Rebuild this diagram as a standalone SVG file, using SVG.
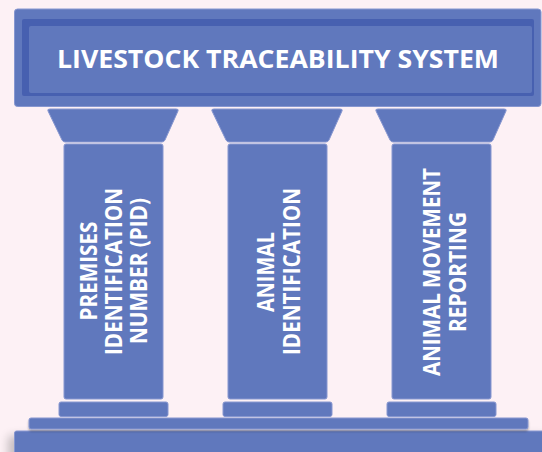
<svg xmlns="http://www.w3.org/2000/svg" width="542" height="452" viewBox="0 0 542 452">
<defs>
<filter id="sh" x="-10%" y="-50%" width="120%" height="200%">
<feGaussianBlur in="SourceAlpha" stdDeviation="5"/>
<feOffset dx="-6" dy="5" result="b"/>
<feComponentTransfer><feFuncA type="linear" slope="0.22"/></feComponentTransfer>
<feMerge><feMergeNode/><feMergeNode in="SourceGraphic"/></feMerge>
</filter>
<filter id="sh2" x="-5%" y="-50%" width="110%" height="250%">
<feGaussianBlur in="SourceAlpha" stdDeviation="1"/>
<feOffset dx="0" dy="2" result="b"/>
<feComponentTransfer><feFuncA type="linear" slope="0.3"/></feComponentTransfer>
<feMerge><feMergeNode/><feMergeNode in="SourceGraphic"/></feMerge>
</filter>
</defs>
<style>
.blue{fill:#6078bd;stroke:#8797d0;stroke-width:1}
.dark{fill:#4760b0}
.inner{fill:#6078bd}
.t{font-family:"Open Sans","Liberation Sans",sans-serif;font-weight:700;fill:#ffffff;text-anchor:middle}
.title{font-size:25px}
.col{font-size:23px}
</style>
<rect width="542" height="452" fill="#fdf1f5"/>
<g id="base">
<rect id="step-3" class="blue" x="14.5" y="431" width="540" height="30" rx="2" filter="url(#sh)"/>
<rect id="step-2" class="blue" x="29" y="418" width="499" height="11" rx="2" filter="url(#sh2)"/>
</g>
<g id="roof">
<rect class="blue" x="14.5" y="9" width="526.5" height="97.5" rx="3"/>
<rect class="dark" x="22" y="19" width="512" height="77" rx="2"/>
<rect class="inner" x="29" y="26" width="503" height="67" rx="2"/>
<text class="t title" x="278" y="68" textLength="442" lengthAdjust="spacingAndGlyphs">LIVESTOCK TRACEABILITY SYSTEM</text>
</g>
<g id="pillar-1">
<path class="blue" d="M50 109 H176 Q179 109 178 111 L165 140 Q164 142 162 142 H65 Q63 142 62 140 L48 111 Q47 109 50 109 Z"/>
<rect class="blue" x="64" y="144" width="99" height="255" rx="2"/>
<rect class="blue" x="59" y="402" width="109" height="14.5" rx="2"/>
<text class="t col" transform="translate(96.7,271) rotate(-90)" textLength="99" lengthAdjust="spacingAndGlyphs">PREMISES</text>
<text class="t col" transform="translate(121.7,271.5) rotate(-90)" textLength="167" lengthAdjust="spacingAndGlyphs">IDENTIFICATION</text>
<text class="t col" transform="translate(146.7,271) rotate(-90)" textLength="146" lengthAdjust="spacingAndGlyphs">NUMBER (PID)</text>
</g>
<g id="pillar-2">
<path class="blue" transform="translate(164,0)" d="M50 109 H176 Q179 109 178 111 L165 140 Q164 142 162 142 H65 Q63 142 62 140 L48 111 Q47 109 50 109 Z"/>
<rect class="blue" x="228" y="144" width="99" height="255" rx="2"/>
<rect class="blue" x="223" y="402" width="109" height="14.5" rx="2"/>
<text class="t col" transform="translate(274,272) rotate(-90)" textLength="80" lengthAdjust="spacingAndGlyphs">ANIMAL</text>
<text class="t col" transform="translate(300,271.5) rotate(-90)" textLength="167" lengthAdjust="spacingAndGlyphs">IDENTIFICATION</text>
</g>
<g id="pillar-3">
<path class="blue" transform="translate(328,0)" d="M50 109 H176 Q179 109 178 111 L165 140 Q164 142 162 142 H65 Q63 142 62 140 L48 111 Q47 109 50 109 Z"/>
<rect class="blue" x="392" y="144" width="99" height="255" rx="2"/>
<rect class="blue" x="387" y="402" width="109" height="14.5" rx="2"/>
<text class="t col" transform="translate(440,272) rotate(-90)" textLength="208" lengthAdjust="spacingAndGlyphs">ANIMAL MOVEMENT</text>
<text class="t col" transform="translate(466,272) rotate(-90)" textLength="120" lengthAdjust="spacingAndGlyphs">REPORTING</text>
</g>
<g id="connectors"/>
</svg>
